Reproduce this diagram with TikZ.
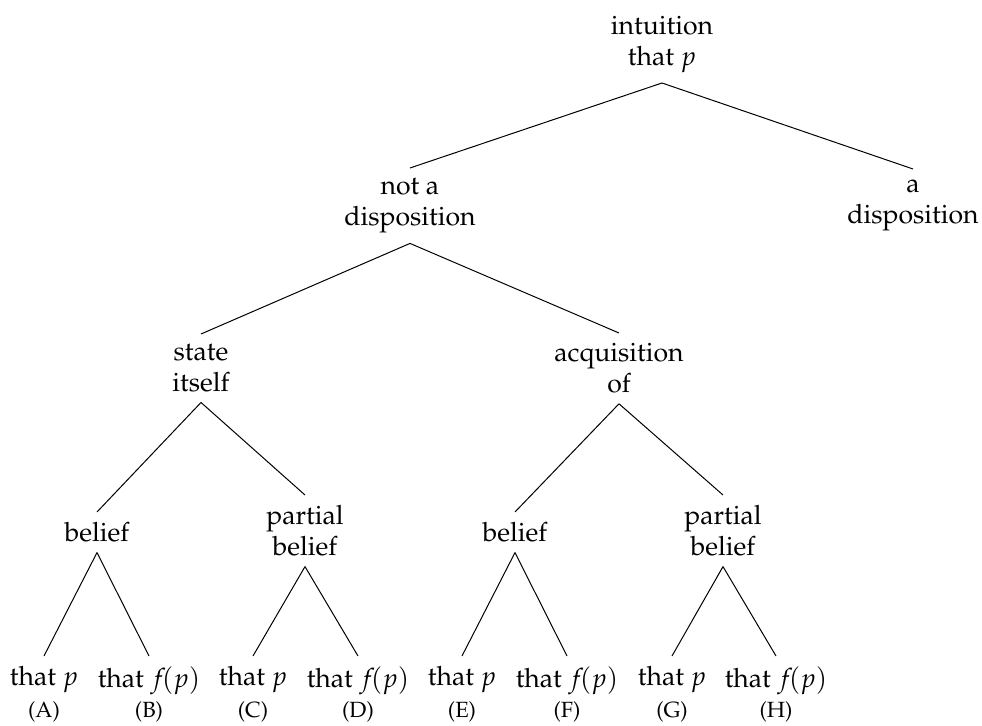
\documentclass[tikz,border=0pt]{standalone}
\usepackage[T1]{fontenc}
\usepackage{mathpazo}
\newcommand{\fofp}{$f\mkern-2.5mu(p)$}
\tikzset{
  tn/.style={align=center, inner xsep=2pt, inner ysep=5pt, font=\fontsize{13.3}{15.5}\selectfont},
  lab/.style={inner sep=0pt, font=\fontsize{11}{13}\selectfont},
  br/.style={line width=0.5pt, black}
}
\begin{document}
\begin{tikzpicture}[x=0.5pt,y=-0.5pt]
\useasboundingbox (0,0) rectangle (982,726);
% inner nodes
\node[tn,anchor=south] (root) at (662,83) {intuition\\that $p$};
\node[tn,anchor=north] (nd) at (410,168) {not a\\disposition};
\node[tn,anchor=north] (d) at (913,169) {a\\disposition};
\node[tn,anchor=north] (si) at (201,334) {state\\itself};
\node[tn,anchor=north] (aq) at (619,333) {acquisition\\of};
\node[tn,anchor=north] (b1) at (97,512) {belief};
\node[tn,anchor=north] (pb1) at (305,495) {partial\\belief};
\node[tn,anchor=north] (b2) at (515,512) {belief};
\node[tn,anchor=north] (pb2) at (723,495) {partial\\belief};
% leaves
\node[tn,anchor=north] (l1) at (44,656) {that $p$};
\node[tn,anchor=north] (l2) at (149,656) {that \fofp};
\node[tn,anchor=north] (l3) at (253,656) {that $p$};
\node[tn,anchor=north] (l4) at (358,656) {that \fofp};
\node[tn,anchor=north] (l5) at (462,656) {that $p$};
\node[tn,anchor=north] (l6) at (567,656) {that \fofp};
\node[tn,anchor=north] (l7) at (672,656) {that $p$};
\node[tn,anchor=north] (l8) at (776,656) {that \fofp};
% labels
\node[lab] (a1) at (44,712) {(A)};
\node[lab] (a2) at (149,712) {(B)};
\node[lab] (a3) at (253,712) {(C)};
\node[lab] (a4) at (358,712) {(D)};
\node[lab] (a5) at (462,712) {(E)};
\node[lab] (a6) at (567,712) {(F)};
\node[lab] (a7) at (672,712) {(G)};
\node[lab] (a8) at (776,712) {(H)};
% edges
\draw[br] (root.south) -- (nd.north);
\draw[br] (root.south) -- (d.north);
\draw[br] (nd.south) -- (si.north);
\draw[br] (nd.south) -- (aq.north);
\draw[br] (si.south) -- (b1.north);
\draw[br] (si.south) -- (pb1.north);
\draw[br] (aq.south) -- (b2.north);
\draw[br] (aq.south) -- (pb2.north);
\draw[br] (b1.south) -- (l1.north);
\draw[br] (b1.south) -- (l2.north);
\draw[br] (pb1.south) -- (l3.north);
\draw[br] (pb1.south) -- (l4.north);
\draw[br] (b2.south) -- (l5.north);
\draw[br] (b2.south) -- (l6.north);
\draw[br] (pb2.south) -- (l7.north);
\draw[br] (pb2.south) -- (l8.north);
\end{tikzpicture}
\end{document}
